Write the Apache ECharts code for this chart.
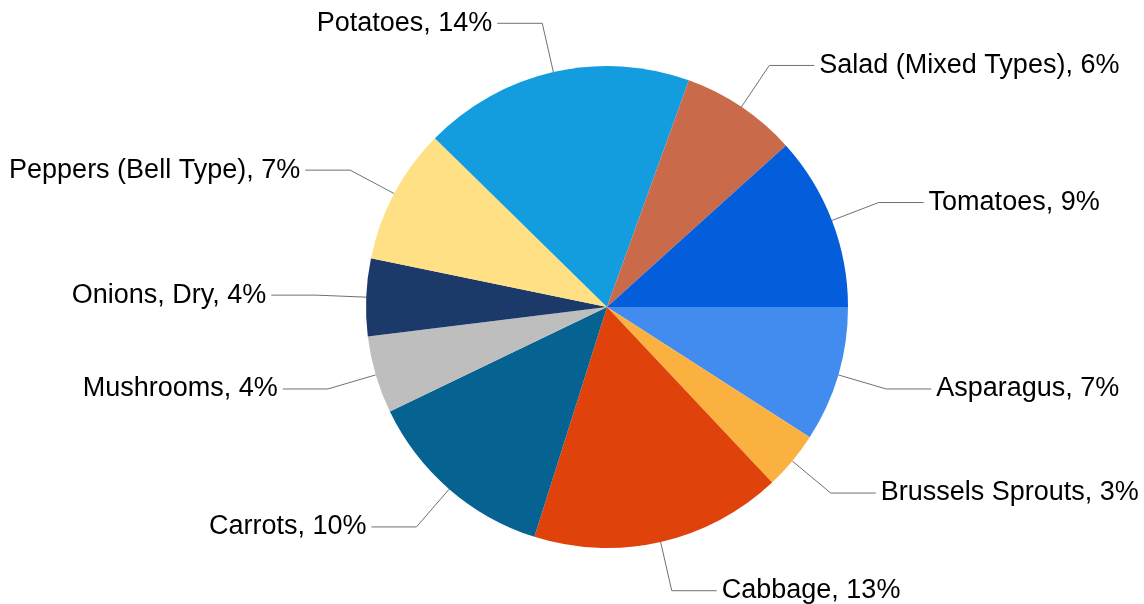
<!DOCTYPE html>
<html>
<head>
<meta charset="utf-8">
<script src="https://cdn.jsdelivr.net/npm/echarts@6/dist/echarts.min.js"></script>
<style>html,body{margin:0;padding:0;background:#fff;}#c{width:1144px;height:604px;}</style>
</head>
<body>
<div id="c"></div>
<script>
const categories = ["Asparagus", "Brussels Sprouts", "Cabbage", "Carrots", "Mushrooms", "Onions, Dry", "Peppers (Bell Type)", "Potatoes", "Salad (Mixed Types)", "Tomatoes"];
const values = [7, 3, 13, 10, 4, 4, 7, 14, 6, 9];
const colors = ["#438CEF", "#FBB13F", "#E0420B", "#066391", "#BEBEBE", "#1B3A6A", "#FFE084", "#139CDE", "#C96A4B", "#045EDB"];

const chart = echarts.init(document.getElementById('c'));
chart.setOption({
  animation: false,
  series: [{
    type: 'pie',
    center: [607, 307],
    radius: 241,
    startAngle: 0,
    clockwise: true,
    avoidLabelOverlap: false,
    data: categories.map((n, i) => ({ name: n, value: values[i], itemStyle: { color: colors[i] } })),
    itemStyle: { borderWidth: 0 },
    label: {
      show: true,
      position: 'outside',
      formatter: p => p.name + ', ' + p.value + '%',
      fontFamily: 'Liberation Sans, Arial, sans-serif',
      fontSize: 27,
      color: '#000',
      distanceToLabelLine: 5
    },
    labelLine: {
      show: true,
      length: 50,
      length2: 45,
      lineStyle: { color: '#707070', width: 1 }
    },
    emphasis: { disabled: true }
  }]
});
</script>
</body>
</html>
